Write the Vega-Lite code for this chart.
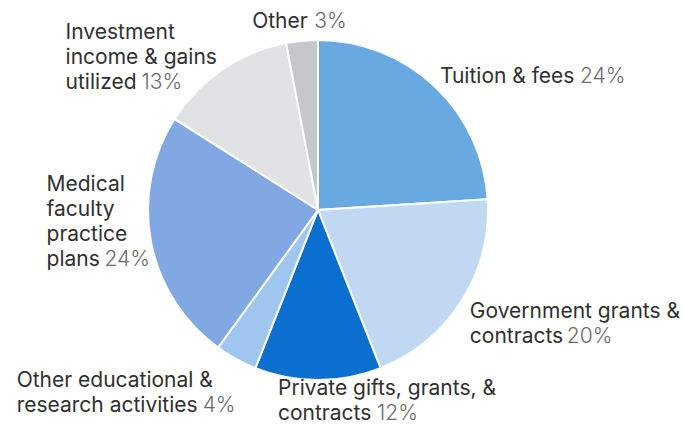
{
  "$schema": "https://vega.github.io/schema/vega-lite/v6.json",
  "autosize": "none",
  "width": 636,
  "height": 420,
  "padding": {"left": 0, "top": 0, "right": 49, "bottom": 8},
  "background": "white",
  "data": {
    "values": [
      {"i": 1, "k": "tui", "name": "Tuition & fees", "value": 24, "label": "Tuition & fees", "pct": "24%"},
      {"i": 2, "k": "gov", "name": "Government grants & contracts", "value": 20, "label": "Government grants &\ncontracts", "pct": "20%"},
      {"i": 3, "k": "pri", "name": "Private gifts, grants, & contracts", "value": 12, "label": "Private gifts, grants, &\ncontracts", "pct": "12%"},
      {"i": 4, "k": "edu", "name": "Other educational & research activities", "value": 4, "label": "Other educational &\nresearch activities", "pct": "4%"},
      {"i": 5, "k": "med", "name": "Medical faculty practice plans", "value": 24, "label": "Medical\nfaculty\npractice\nplans", "pct": "24%"},
      {"i": 6, "k": "inv", "name": "Investment income & gains utilized", "value": 13, "label": "Investment\nincome & gains\nutilized", "pct": "13%"},
      {"i": 7, "k": "oth", "name": "Other", "value": 3, "label": "Other", "pct": "3%"}
    ]
  },
  "encoding": {
    "theta": {"field": "value", "type": "quantitative", "stack": true},
    "order": {"field": "i", "type": "quantitative"},
    "detail": {"field": "name", "type": "nominal"}
  },
  "layer": [
    {
      "mark": {"type": "arc", "outerRadius": 170, "stroke": "white", "strokeWidth": 2},
      "encoding": {
        "color": {
          "field": "name", "type": "nominal", "legend": null,
          "scale": {
            "domain": ["Tuition & fees", "Government grants & contracts", "Private gifts, grants, & contracts", "Other educational & research activities", "Medical faculty practice plans", "Investment income & gains utilized", "Other"],
            "range": ["#68a9e2", "#c1d8f3", "#0a6fcf", "#9fc6ee", "#82a8e3", "#e1e2e4", "#c5c7ca"]
          }
        }
      }
    },
    {"mark": {"type": "text", "dx": -15, "dy": 19}, "encoding": {"text": {"condition": {"test": "datum.k === 'tui'", "field": "label", "type": "nominal"}, "value": ""}}},
    {"mark": {"type": "text", "dx": 125, "dy": 19, "fill": "#6b6b6b", "fontWeight": 300}, "encoding": {"text": {"condition": {"test": "datum.k === 'tui'", "field": "pct", "type": "nominal"}, "value": ""}}},
    {"mark": {"type": "text", "dx": -17, "dy": 1}, "encoding": {"text": {"condition": {"test": "datum.k === 'gov'", "field": "label", "type": "nominal"}, "value": ""}}},
    {"mark": {"type": "text", "dx": 80, "dy": 26, "fill": "#6b6b6b", "fontWeight": 300}, "encoding": {"text": {"condition": {"test": "datum.k === 'gov'", "field": "pct", "type": "nominal"}, "value": ""}}},
    {"mark": {"type": "text", "dx": -40, "dy": -15}, "encoding": {"text": {"condition": {"test": "datum.k === 'pri'", "field": "label", "type": "nominal"}, "value": ""}}},
    {"mark": {"type": "text", "dx": 59, "dy": 10, "fill": "#6b6b6b", "fontWeight": 300}, "encoding": {"text": {"condition": {"test": "datum.k === 'pri'", "field": "pct", "type": "nominal"}, "value": ""}}},
    {"mark": {"type": "text", "dx": -205, "dy": 2}, "encoding": {"text": {"condition": {"test": "datum.k === 'edu'", "field": "label", "type": "nominal"}, "value": ""}}},
    {"mark": {"type": "text", "dx": -19, "dy": 27, "fill": "#6b6b6b", "fontWeight": 300}, "encoding": {"text": {"condition": {"test": "datum.k === 'edu'", "field": "pct", "type": "nominal"}, "value": ""}}},
    {"mark": {"type": "text", "dx": -75, "dy": -56}, "encoding": {"text": {"condition": {"test": "datum.k === 'med'", "field": "label", "type": "nominal"}, "value": ""}}},
    {"mark": {"type": "text", "dx": -17, "dy": 19, "fill": "#6b6b6b", "fontWeight": 300}, "encoding": {"text": {"condition": {"test": "datum.k === 'med'", "field": "pct", "type": "nominal"}, "value": ""}}},
    {"mark": {"type": "text", "dx": -140, "dy": -6}, "encoding": {"text": {"condition": {"test": "datum.k === 'inv'", "field": "label", "type": "nominal"}, "value": ""}}},
    {"mark": {"type": "text", "dx": -64, "dy": 44, "fill": "#6b6b6b", "fontWeight": 300}, "encoding": {"text": {"condition": {"test": "datum.k === 'inv'", "field": "pct", "type": "nominal"}, "value": ""}}},
    {"mark": {"type": "text", "dx": -47, "dy": 17}, "encoding": {"text": {"condition": {"test": "datum.k === 'oth'", "field": "label", "type": "nominal"}, "value": ""}}},
    {"mark": {"type": "text", "dx": 15, "dy": 17, "fill": "#6b6b6b", "fontWeight": 300}, "encoding": {"text": {"condition": {"test": "datum.k === 'oth'", "field": "pct", "type": "nominal"}, "value": ""}}}
  ],
  "config": {
    "view": {"stroke": null},
    "text": {"radius": 200, "align": "left", "baseline": "alphabetic", "font": "Inter", "fontSize": 21, "fontWeight": 400, "fill": "#303030", "lineHeight": 25, "lineBreak": "\n"}
  }
}
